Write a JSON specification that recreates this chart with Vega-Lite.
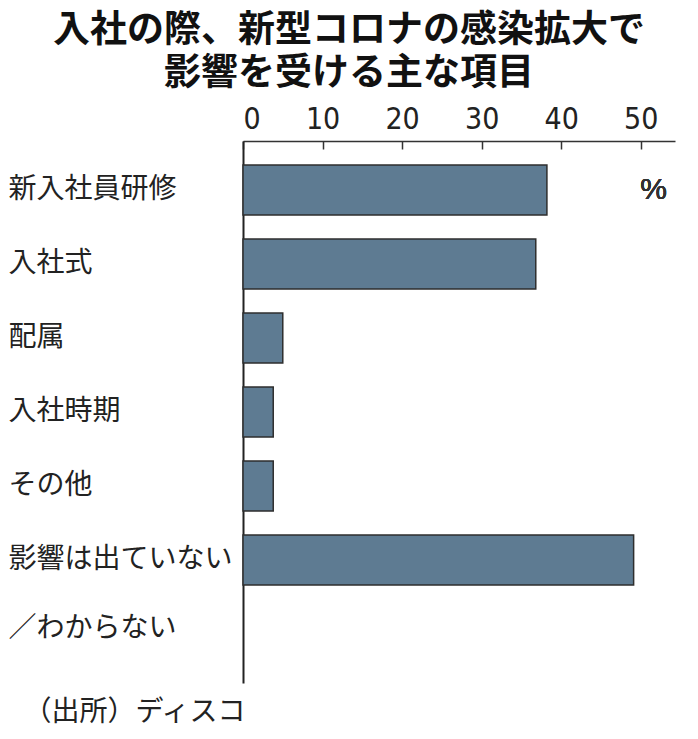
{
  "$schema": "https://vega.github.io/schema/vega-lite/v6.json",
  "autosize": {"type": "none"},
  "padding": {"left": 243, "top": 141, "right": 23, "bottom": 56},
  "width": 432,
  "height": 542,
  "title": {
    "text": ["入社の際、新型コロナの感染拡大で", "影響を受ける主な項目"],
    "anchor": "middle",
    "frame": "group",
    "dx": -110,
    "offset": 11,
    "font": "Noto Sans CJK JP",
    "fontSize": 37,
    "fontWeight": "bold",
    "lineHeight": 43,
    "color": "#111111"
  },
  "data": {
    "values": [
      {"item": "新入社員研修", "pct": 38.2},
      {"item": "入社式", "pct": 36.8},
      {"item": "配属", "pct": 5.0},
      {"item": "入社時期", "pct": 3.8},
      {"item": "その他", "pct": 3.8},
      {"item": "影響は出ていない／わからない", "pct": 49.1}
    ]
  },
  "layer": [
    {
      "mark": {"type": "bar", "color": "#5e7b92", "stroke": "#2e2e2e", "strokeWidth": 1.5},
      "encoding": {
        "y": {
          "field": "item",
          "type": "nominal",
          "sort": null,
          "scale": {"paddingInner": 0.324, "paddingOuter": 0.824, "align": 0.197},
          "axis": {
            "title": "（出所）ディスコ",
            "titleAngle": 0,
            "titleAlign": "left",
            "titleBaseline": "middle",
            "titleX": -220,
            "titleY": 571,
            "titleFont": "Noto Sans CJK JP",
            "titleFontSize": 28,
            "titleFontWeight": "normal",
            "titleColor": "#222222",
            "ticks": false,
            "tickSize": 0,
            "labelAlign": "left",
            "labelBaseline": "middle",
            "labelPadding": 235,
            "labelLimit": 0,
            "labelFont": "Noto Sans CJK JP",
            "labelFontSize": 28,
            "labelColor": "#222222",
            "labelLineHeight": 69,
            "labelExpr": "datum.label == '影響は出ていない／わからない' ? ['影響は出ていない', '／わからない'] : datum.label",
            "domainColor": "#222222",
            "domainWidth": 2
          }
        },
        "x": {
          "field": "pct",
          "type": "quantitative",
          "scale": {"domain": [0, 54.3], "nice": false},
          "axis": {
            "orient": "top",
            "title": null,
            "values": [0, 10, 20, 30, 40, 50],
            "grid": false,
            "tickSize": -8,
            "tickColor": "#333333",
            "tickWidth": 1.5,
            "labelPadding": 15,
            "labelFont": "DejaVu Sans Condensed, Liberation Sans",
            "labelFontSize": 30,
            "labelColor": "#222222",
            "domainColor": "#333333",
            "domainWidth": 1.5
          }
        }
      }
    },
    {
      "mark": {"type": "text", "text": "%", "font": "Liberation Sans", "fontSize": 30, "fontWeight": "normal", "color": "#333333", "align": "center", "baseline": "middle"},
      "encoding": {
        "x": {"datum": 51.6},
        "y": {"datum": "新入社員研修"}
      }
    }
  ],
  "config": {
    "view": {"stroke": null},
    "background": "white"
  }
}
